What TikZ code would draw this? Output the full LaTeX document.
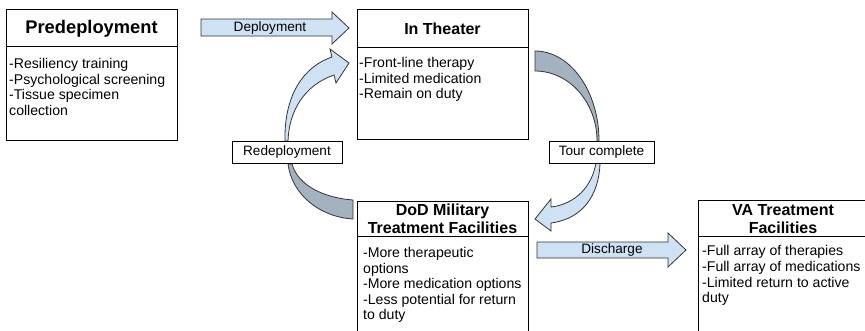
\documentclass[tikz,border=0pt]{standalone}
\usepackage{fontspec}
\setmainfont{Liberation Sans}
\definecolor{lightarrow}{HTML}{CFE2F3}
\definecolor{darkarrow}{HTML}{A4B2C0}
\definecolor{edgegray}{HTML}{333333}
\tikzset{
  boxframe/.style={draw=black, line width=0.9pt, fill=white, inner sep=0pt},
  titletext/.style={font=\bfseries\fontsize{16}{18}\selectfont, inner sep=0pt, align=center},
  bodytext/.style={font=\fontsize{14.1}{15.6}\selectfont, inner sep=0pt, align=left, anchor=north west},
  labelbox/.style={draw=black, line width=0.8pt, fill=white, inner sep=0pt, font=\fontsize{13.6}{15}\selectfont},
  labeltext/.style={inner sep=0pt, font=\fontsize{13.6}{15}\selectfont},
  lightshape/.style={fill=lightarrow, draw=edgegray, line width=0.8pt, line join=miter},
  darkshape/.style={fill=darkarrow, draw=edgegray, line width=0.8pt, line join=miter}
}
\begin{document}
\begin{tikzpicture}[x=1pt,y=-1pt]
\useasboundingbox[fill=white] (0,0) rectangle (865,330);

% ---- curved arrows (drawn first, boxes sit on top) ----
% In Theater -> Tour complete (dark band)
\draw[darkshape] (535,51) .. controls (570.3,51) and (599,91.3) .. (599,141)
  -- (597,141) .. controls (597,102.3) and (569.2,71) .. (535,71) -- cycle;
% Tour complete -> DoD (light arrow)
\draw[lightshape] (596,163) .. controls (592,186) and (576,204) .. (551,207)
  -- (551,199) -- (535,219) -- (551,231) -- (551,223)
  .. controls (582,219) and (599,196) .. (600,163) -- cycle;
% Redeployment -> DoD (dark band)
\draw[darkshape] (288,164) .. controls (292,195) and (320,217) .. (353,219)
  -- (353,200) .. controls (325,198) and (298,186) .. (292,164) -- cycle;
% Redeployment -> In Theater (light arrow)
\draw[lightshape] (285,141) .. controls (284,100) and (300,68) .. (332,57)
  -- (330,49) -- (349,63) -- (336,83) -- (334,75)
  .. controls (305,85) and (289,110) .. (288,141) -- cycle;

% ---- straight arrows ----
\draw[lightshape] (201,19) -- (332,19) -- (332,12) -- (349,28) -- (332,44) -- (332,36) -- (201,36) -- cycle;
\node[labeltext] (deplabel) at (270,28) {Deployment};
\draw[lightshape] (537,242) -- (668,242) -- (668,233) -- (686,250) -- (668,267) -- (668,258) -- (537,258) -- cycle;
\node[labeltext] (dislabel) at (612,250) {Discharge};

% ---- Predeployment ----
\node[boxframe, anchor=north west, minimum width=171pt, minimum height=131pt] (pre) at (6,9) {};
\draw[line width=0.9pt] (6,46) -- (177,46);
\node[titletext, font=\bfseries\fontsize{18.3}{20}\selectfont, anchor=base] (pretitle) at (91.5,33.5) {Predeployment};
\node[bodytext] (prebody) at (9,58) {-Resiliency training\\-Psychological screening\\-Tissue specimen\\collection};

% ---- In Theater ----
\node[boxframe, anchor=north west, minimum width=171pt, minimum height=130pt] (theater) at (357,9) {};
\draw[line width=0.9pt] (357,47) -- (528,47);
\node[titletext, anchor=base] (theatertitle) at (442.5,34) {In Theater};
\node[bodytext] (theaterbody) at (359,57) {-Front-line therapy\\-Limited medication\\-Remain on duty};

% ---- DoD ----
\node[boxframe, anchor=north west, minimum width=171pt, minimum height=135pt] (dod) at (357,201) {};
\draw[line width=0.9pt] (357,236) -- (528,236);
\node[titletext, anchor=base] (dodtitle1) at (442.5,215) {DoD Military};
\node[titletext, anchor=base] (dodtitle2) at (442.5,233) {Treatment Facilities};
\node[bodytext] (dodbody) at (363,247) {-More therapeutic\\options\\-More medication options\\-Less potential for return\\to duty};

% ---- VA ----
\node[boxframe, anchor=north west, minimum width=172pt, minimum height=136pt] (va) at (698,200) {};
\draw[line width=0.9pt] (698,236) -- (870,236);
\node[titletext, anchor=base] (vatitle1) at (783,215) {VA Treatment};
\node[titletext, anchor=base] (vatitle2) at (783,233) {Facilities};
\node[bodytext] (vabody) at (702,245.5) {-Full array of therapies\\-Full array of medications\\-Limited return to active\\duty};

% ---- labels on the cycle ----
\node[labelbox, minimum width=110pt, minimum height=22pt] (redep) at (287,152) {Redeployment};
\node[labelbox, minimum width=105pt, minimum height=22pt] (tour) at (601.5,152) {Tour complete};
\end{tikzpicture}
\end{document}
